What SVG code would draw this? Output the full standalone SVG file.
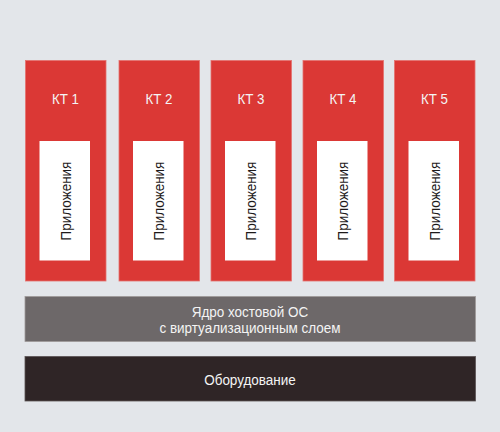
<svg xmlns="http://www.w3.org/2000/svg" width="500" height="432" viewBox="0 0 500 432">
<style>
.kt{fill:#db3835;stroke:#e4726f;stroke-width:0.8}
.app{fill:#ffffff}
.t{font-family:"Liberation Sans",Arial,sans-serif;font-size:15.5px;text-anchor:middle}
.w{fill:#f4f4f4}
.b{fill:#1e1a1a}
</style>
<rect width="500" height="432" fill="#e3e6ea"/>
<g id="kt1"><rect class="kt" x="25.5" y="60.5" width="80.5" height="220.5"/><rect class="app" x="39.5" y="141" width="50.5" height="119.5"/><text class="t w" transform="translate(65.5,104) scale(0.86,1)">КТ 1</text><text class="t b" transform="translate(70.5,201) rotate(-90) scale(0.87,1)">Приложения</text></g>
<g id="kt2"><rect class="kt" x="119" y="60.5" width="80.5" height="220.5"/><rect class="app" x="133" y="141" width="50.5" height="119.5"/><text class="t w" transform="translate(159,104) scale(0.86,1)">КТ 2</text><text class="t b" transform="translate(164,201) rotate(-90) scale(0.87,1)">Приложения</text></g>
<g id="kt3"><rect class="kt" x="211" y="60.5" width="80.5" height="220.5"/><rect class="app" x="225" y="141" width="50.5" height="119.5"/><text class="t w" transform="translate(251,104) scale(0.86,1)">КТ 3</text><text class="t b" transform="translate(256,201) rotate(-90) scale(0.87,1)">Приложения</text></g>
<g id="kt4"><rect class="kt" x="303" y="60.5" width="80.5" height="220.5"/><rect class="app" x="317" y="141" width="50.5" height="119.5"/><text class="t w" transform="translate(343,104) scale(0.86,1)">КТ 4</text><text class="t b" transform="translate(348,201) rotate(-90) scale(0.87,1)">Приложения</text></g>
<g id="kt5"><rect class="kt" x="394.5" y="60.5" width="80.5" height="220.5"/><rect class="app" x="408.5" y="141" width="50.5" height="119.5"/><text class="t w" transform="translate(434.5,104) scale(0.86,1)">КТ 5</text><text class="t b" transform="translate(439.5,201) rotate(-90) scale(0.87,1)">Приложения</text></g>
<g id="kernel"><rect x="25" y="296.5" width="450.5" height="45" fill="#6d6869" stroke="#9e9a9a" stroke-width="0.8"/><text class="t w" transform="translate(250,317) scale(0.87,1)">Ядро хостовой ОС</text><text class="t w" transform="translate(250,333) scale(0.87,1)">с виртуализационным слоем</text></g>
<g id="hw"><rect x="25" y="356.5" width="450.5" height="44.5" fill="#2f2526" stroke="#5a5354" stroke-width="0.8"/><text class="t w" transform="translate(250,385) scale(0.87,1)">Оборудование</text></g>
<g id="connectors"></g>
</svg>
